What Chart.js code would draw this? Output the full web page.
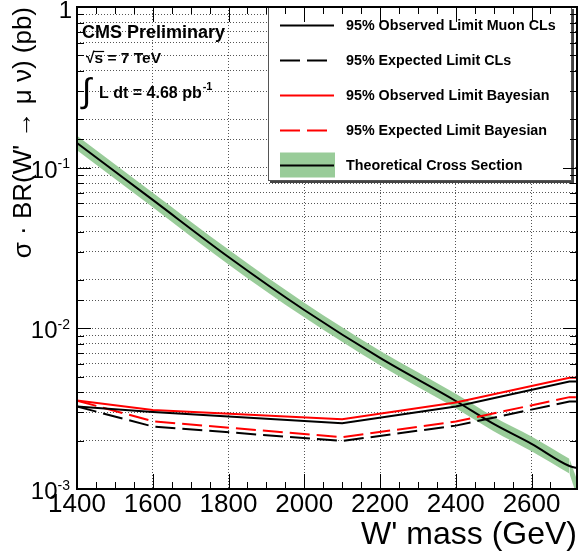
<!DOCTYPE html>
<html>
<head>
<meta charset="utf-8">
<script src="https://cdn.jsdelivr.net/npm/chart.js@4"></script>
<style>
  html, body { margin: 0; padding: 0; background: #fff; }
  #wrap { width: 578px; height: 560px; }
</style>
</head>
<body>
<div id="wrap"><canvas id="c" width="578" height="560"></canvas></div>
<script>
// W' -> mu nu: 95% CL limits on sigma*BR versus W' mass, with the SSM prediction
const limitMass   = [1400, 1600, 2100, 2400, 2700, 2720];
const obsCLs      = [3.26e-3, 3.01e-3, 2.57e-3, 3.26e-3, 4.66e-3, 4.66e-3];
const expCLs      = [3.26e-3, 2.45e-3, 1.99e-3, 2.48e-3, 3.50e-3, 3.50e-3];
const obsBayes    = [3.55e-3, 3.10e-3, 2.72e-3, 3.45e-3, 4.93e-3, 4.93e-3];
const expBayes    = [3.55e-3, 2.64e-3, 2.10e-3, 2.63e-3, 3.73e-3, 3.73e-3];

const theoryMass  = [1400, 1600, 1800, 2000, 2200, 2400, 2500, 2600, 2700, 2720];
const theoryXsec  = [0.1425, 0.0630, 0.0278, 0.0130, 6.54e-3, 3.53e-3, 2.54e-3, 1.91e-3, 1.39e-3, 1.35e-3];
const theoryUp    = [0.158, 0.0699, 0.0309, 0.01443, 7.26e-3, 3.92e-3, 2.82e-3, 2.12e-3, 1.54e-3, 1.14e-3];
const theoryDown  = [0.1284, 0.0568, 0.0250, 0.01171, 5.89e-3, 3.18e-3, 2.29e-3, 1.72e-3, 1.25e-3, 0.90e-3];

const seriesNames = [
  '95% Observed Limit Muon CLs',
  '95% Expected Limit CLs',
  '95% Observed Limit Bayesian',
  '95% Expected Limit Bayesian',
  'Theoretical Cross Section'
];

const xMajorTicks = [1400, 1600, 1800, 2000, 2200, 2400, 2600];
// decade labels: mantissa text and exponent text
const yDecades    = [1, 0.1, 0.01, 0.001];
const yDecadeBase = ['1', '10', '10', '10'];
const yDecadeExp  = ['', '-1', '-2', '-3'];

const xTitle = "W' mass (GeV)";
const yTitle = "\u03C3 \u00B7 BR(W' \u2192 \u03BC \u03BD) (pb)";

const FONT = "'Liberation Sans', Arial, Helvetica, sans-serif";
const BAND_GREEN = '#99cc99';
const DASH = [20, 7];

const pts = (xs, ys) => xs.map((x, i) => ({ x: x, y: ys[i] }));
// the band is smooth up to 2700 GeV, then a straight closing piece to the axis end
const nBody = theoryMass.length - 1;
const bodyOf = arr => arr.slice(0, nBody);
const tailOf = arr => arr.slice(nBody - 1);

function isDecade(v) {
  const l = Math.log10(v);
  return Math.abs(l - Math.round(l)) < 1e-6;
}

// Decade labels with raised exponents on the log axis
const logLabels = {
  id: 'logLabels',
  afterDraw(chart) {
    const { ctx, scales: { y } } = chart;
    ctx.save();
    ctx.fillStyle = '#000';
    ctx.textBaseline = 'alphabetic';
    ctx.textAlign = 'right';
    const right = y.right - 7;
    yDecades.forEach((v, i) => {
      const py = y.getPixelForValue(v);
      if (!yDecadeExp[i]) {
        ctx.font = '24px ' + FONT;
        ctx.fillText(yDecadeBase[i], right + 2, py + 11);
        return;
      }
      ctx.font = '14px ' + FONT;
      const ew = ctx.measureText(yDecadeExp[i]).width;
      ctx.fillText(yDecadeExp[i], right, py + 0.5);
      ctx.font = '24px ' + FONT;
      ctx.fillText(yDecadeBase[i], right - ew, py + 10);
    });
    ctx.restore();
  }
};

// Text block, legend, inward tick marks and the frame around the plot
const decorations = {
  id: 'decorations',
  afterDraw(chart) {
    const { ctx, chartArea: a, scales: { x, y } } = chart;
    ctx.save();

    // Experiment label
    ctx.fillStyle = '#000';
    ctx.textBaseline = 'alphabetic';
    ctx.textAlign = 'left';
    ctx.font = 'bold 18px ' + FONT;
    ctx.fillText('CMS Preliminary', 82, 38);

    ctx.font = 'bold 15.5px ' + FONT;
    ctx.fillText('\u221A', 86, 63);
    const rw = ctx.measureText('\u221A').width;
    ctx.fillText('s', 86 + rw, 63);
    const sw = ctx.measureText('s').width;
    ctx.lineWidth = 1.2;
    ctx.strokeStyle = '#000';
    ctx.beginPath();
    ctx.moveTo(86 + rw - 1, 51.5);
    ctx.lineTo(86 + rw + sw + 1, 51.5);
    ctx.stroke();
    ctx.fillText(' = 7 TeV', 86 + rw + sw, 63);

    ctx.font = '34px ' + FONT;
    ctx.fillText('\u222B', 82, 102);
    ctx.font = 'bold 16px ' + FONT;
    const lumi = 'L dt = 4.68 pb';
    ctx.fillText(lumi, 99, 98);
    const lw = ctx.measureText(lumi).width;
    ctx.font = 'bold 11px ' + FONT;
    ctx.fillText('-1', 99 + lw + 1, 90);

    // Legend box
    const bx0 = 268, by0 = 7, bx1 = 572, by1 = 181;
    ctx.fillStyle = '#fff';
    ctx.fillRect(bx0, by0, bx1 - bx0, by1 - by0);
    ctx.fillStyle = '#444';
    ctx.fillRect(bx0 + 2, by1, bx1 - bx0, 2);
    ctx.fillRect(bx1, by0 + 2, 2, by1 - by0);
    ctx.strokeStyle = '#555';
    ctx.lineWidth = 1;
    ctx.strokeRect(bx0 + 0.5, by0 + 0.5, bx1 - bx0 - 1, by1 - by0 - 1);

    const rowY = [25.5, 60.5, 95.5, 130.5, 165.5];
    const sx0 = 280, sx1 = 334, tx = 346;
    const ds = chart.data.datasets;
    ctx.font = 'bold 14.3px ' + FONT;
    ctx.textBaseline = 'middle';
    for (let i = 0; i < 5; i++) {
      const d = ds[i];
      const yy = rowY[i];
      if (i === 4) {
        ctx.fillStyle = BAND_GREEN;
        ctx.fillRect(sx0, yy - 13, sx1 - sx0 + 1, 25);
      }
      ctx.strokeStyle = d.borderColor;
      ctx.lineWidth = d.borderWidth;
      ctx.setLineDash(d.borderDash || []);
      ctx.beginPath();
      ctx.moveTo(sx0, yy);
      ctx.lineTo(sx1, yy);
      ctx.stroke();
      ctx.setLineDash([]);
      ctx.fillStyle = '#000';
      ctx.fillText(d.label, tx, yy + 0.5);
    }

    // Inward tick marks on all four sides
    ctx.strokeStyle = '#000';
    ctx.lineWidth = 1;
    ctx.beginPath();
    x.ticks.forEach(t => {
      const v = t.value;
      if (Math.abs(v % 50) > 1e-6) return;
      const px = Math.round(x.getPixelForValue(v)) + 0.5;
      const len = xMajorTicks.includes(v) ? 15 : 7;
      ctx.moveTo(px, a.bottom); ctx.lineTo(px, a.bottom - len);
      ctx.moveTo(px, a.top); ctx.lineTo(px, a.top + len);
    });
    y.ticks.forEach(t => {
      const v = t.value;
      const py = Math.round(y.getPixelForValue(v)) + 0.5;
      const len = isDecade(v) ? 14 : 7;
      ctx.moveTo(a.left, py); ctx.lineTo(a.left + len, py);
      ctx.moveTo(a.right, py); ctx.lineTo(a.right - len, py);
    });
    ctx.stroke();

    ctx.lineWidth = 2;
    ctx.strokeRect(a.left, a.top, a.right - a.left, a.bottom - a.top);
    ctx.restore();
  }
};

const bandStyle = { borderWidth: 0, borderColor: 'rgba(0,0,0,0)', backgroundColor: BAND_GREEN };

new Chart(document.getElementById('c'), {
  type: 'line',
  data: {
    datasets: [
      { label: seriesNames[0], data: pts(limitMass, obsCLs), borderColor: '#000000', borderWidth: 2, fill: false },
      { label: seriesNames[1], data: pts(limitMass, expCLs), borderColor: '#000000', borderWidth: 2, borderDash: DASH, fill: false },
      { label: seriesNames[2], data: pts(limitMass, obsBayes), borderColor: '#ff0000', borderWidth: 2, fill: false },
      { label: seriesNames[3], data: pts(limitMass, expBayes), borderColor: '#ff0000', borderWidth: 2, borderDash: DASH, fill: false },
      { label: seriesNames[4], data: pts(theoryMass, theoryXsec), borderColor: '#000000', borderWidth: 2, fill: false, cubicInterpolationMode: 'monotone' },
      Object.assign({ label: 'band up', data: pts(bodyOf(theoryMass), bodyOf(theoryUp)), fill: '+1', cubicInterpolationMode: 'monotone' }, bandStyle),
      Object.assign({ label: 'band down', data: pts(bodyOf(theoryMass), bodyOf(theoryDown)), fill: false, cubicInterpolationMode: 'monotone' }, bandStyle),
      Object.assign({ label: 'band up end', data: pts(tailOf(theoryMass), tailOf(theoryUp)), fill: '+1' }, bandStyle),
      Object.assign({ label: 'band down end', data: pts(tailOf(theoryMass), tailOf(theoryDown)), fill: false }, bandStyle)
    ]
  },
  options: {
    responsive: false,
    animation: false,
    devicePixelRatio: 1,
    elements: { point: { radius: 0 }, line: { tension: 0 } },
    layout: { padding: { top: 7, right: 1, left: 0, bottom: 0 } },
    plugins: {
      legend: { display: false },
      tooltip: { enabled: false },
      filler: { drawTime: 'beforeDatasetsDraw' }
    },
    scales: {
      x: {
        type: 'linear',
        min: 1400,
        max: 2720,
        ticks: {
          stepSize: 50,
          autoSkip: false,
          maxRotation: 0,
          minRotation: 0,
          padding: 0,
          color: '#000',
          font: { family: FONT, size: 26 },
          callback: v => (xMajorTicks.includes(v) ? String(v) : '')
        },
        grid: {
          drawTicks: false,
          lineWidth: 1,
          color: c => (c.tick && xMajorTicks.includes(c.tick.value) && c.tick.value !== 1400 ? '#555' : 'rgba(0,0,0,0)')
        },
        border: { display: false, dash: [1, 2] },
        title: {
          display: true, text: xTitle, align: 'end', color: '#000',
          font: { family: FONT, size: 32 }, padding: { top: 0, bottom: 6 }
        },
        afterFit: s => { s.height = 71; s.paddingLeft = 0; s.paddingRight = 0; }
      },
      y: {
        type: 'logarithmic',
        min: 1e-3,
        max: 1,
        ticks: { display: false, autoSkip: false },
        grid: { drawTicks: false, lineWidth: 1, color: '#555' },
        border: { display: false, dash: [1, 2] },
        title: {
          display: true, text: yTitle, align: 'end', color: '#000',
          font: { family: FONT, size: 26 }, padding: { top: 8, bottom: 0 }
        },
        afterFit: s => { s.width = 77; s.paddingTop = 0; s.paddingBottom = 0; }
      }
    }
  },
  plugins: [logLabels, decorations]
});
</script>
</body>
</html>
